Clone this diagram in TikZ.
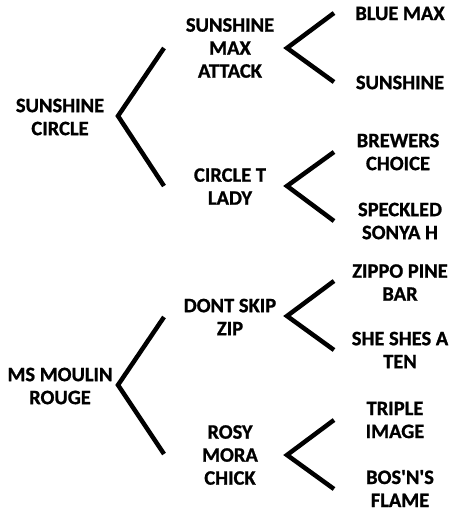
\documentclass[tikz,border=0pt]{standalone}
\usepackage{fontspec}
\newfontfamily\cf{Carlito}[BoldFont={Carlito Bold},BoldFeatures={FakeBold=1}]
\tikzset{
  pname/.style={align=center,inner sep=0pt,font=\cf\bfseries\fontsize{20.5}{23}\selectfont},
  chev/.style={line width=4.5pt,line join=miter,line cap=butt}
}
\begin{document}
\begin{tikzpicture}[x=1pt,y=-1pt]
\useasboundingbox (0,0) rectangle (451,514);
% names
\node[pname] (a) at (60,117) {SUNSHINE\\CIRCLE};
\node[pname] (b) at (230,48) {SUNSHINE\\MAX\\ATTACK};
\node[pname] (c) at (230,186.5) {CIRCLE T\\LADY};
\node[pname] (d) at (400,13.5) {BLUE MAX};
\node[pname] (e) at (400,82.5) {SUNSHINE};
\node[pname] (f) at (398,152) {BREWERS\\CHOICE};
\node[pname] (g) at (400,221) {SPECKLED\\SONYA H};
\node[pname] (h) at (60,386) {MS MOULIN\\ROUGE};
\node[pname] (i) at (230,317) {DONT SKIP\\ZIP};
\node[pname] (j) at (230,455) {ROSY\\MORA\\CHICK};
\node[pname] (k) at (400,282.5) {ZIPPO PINE\\BAR};
\node[pname] (l) at (400,350) {SHE SHES A\\TEN};
\node[pname] (m) at (395,420) {TRIPLE\\IMAGE};
\node[pname] (n) at (400,488.5) {BOS'N'S\\FLAME};
% chevron points
\coordinate (av) at (118,116); \coordinate (at) at (164,48);  \coordinate (ab) at (164,186);
\coordinate (bv) at (287,48);  \coordinate (bt) at (334,13);  \coordinate (bb) at (334,82);
\coordinate (cv) at (287,186); \coordinate (ct) at (334,152); \coordinate (cb) at (334,221);
\coordinate (hv) at (118,385); \coordinate (ht) at (164,317); \coordinate (hb) at (164,454);
\coordinate (iv) at (287,316); \coordinate (it) at (334,281); \coordinate (ib) at (334,350);
\coordinate (jv) at (287,455); \coordinate (jt) at (334,420); \coordinate (jb) at (334,489);
\draw[chev] (at) -- (av) -- (ab);
\draw[chev] (bt) -- (bv) -- (bb);
\draw[chev] (ct) -- (cv) -- (cb);
\draw[chev] (ht) -- (hv) -- (hb);
\draw[chev] (it) -- (iv) -- (ib);
\draw[chev] (jt) -- (jv) -- (jb);
\end{tikzpicture}
\end{document}
